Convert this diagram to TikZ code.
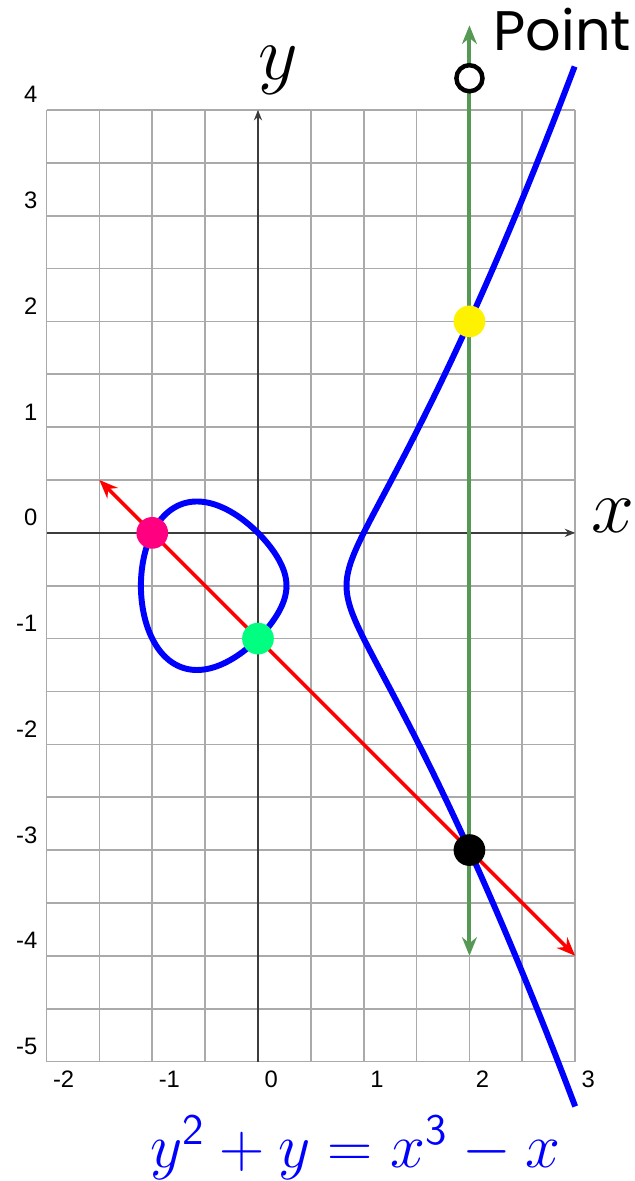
\documentclass[tikz,border=0pt]{standalone}
\usepackage{fontspec}
\newfontfamily\ticksfont{Liberation Sans}
\newfontfamily\pointfont{Poppins}
\usetikzlibrary{arrows.meta}
\definecolor{gridgray}{RGB}{170,170,170}
\definecolor{axisgray}{RGB}{60,60,60}
\definecolor{vgreen}{RGB}{85,153,85}
\definecolor{ptpink}{RGB}{255,0,128}
\definecolor{ptgreen}{RGB}{0,255,128}
\tikzset{
  ptdot/.style={circle,inner sep=0pt,minimum size=0.3cm},
  ticklab/.style={font=\ticksfont\fontsize{6.4}{7}\selectfont,inner sep=0pt},
  biglab/.style={font=\fontsize{20.74}{24}\selectfont,inner sep=0pt},
}
\begin{document}
\begin{tikzpicture}[>=Stealth]
    \useasboundingbox (-2.44,-6.13) rectangle (3.56,5.04);
    \draw[gridgray,line width=0.45pt,step=0.5] (-2,-5) grid (3,4); %方眼
    \coordinate (xl) at (-2,0); \coordinate (xr) at (3,0);
    \coordinate (yb) at (0,-5); \coordinate (yt) at (0,4);
    \draw[->,>={Stealth[length=2.8pt,width=2.2pt]},axisgray,line width=0.55pt] (xl)--(xr); %x軸
    \draw[->,>={Stealth[length=2.8pt,width=2.2pt]},axisgray,line width=0.55pt] (yb)--(yt); %y軸
    \node[biglab,anchor=base] (xlab) at (3.354,0) {$x$};
    \node[biglab,anchor=base] (ylab) at (0.19,4.29) {$y$};
    \foreach \y in {-5,...,4} \node[ticklab,anchor=base east] (ty\y) at (-2.08,\y+0.066) {\y}; %目盛り
    \foreach \x in {-2,...,3} \node[ticklab,anchor=base west] (tx\x) at (\x+0.055,-5.25) {\x};
    \coordinate (G1) at (2,-4); \coordinate (G2) at (2,4.8);
    \draw[<->,>={Stealth[length=5pt,width=4pt]},vgreen,line width=1.1pt] (G1)--(G2); %縦線
    \coordinate (R1) at (-1.5,0.5); \coordinate (R2) at (3,-4);
    \draw[<->,>={Stealth[length=5pt,width=4pt]},red,line width=0.95pt] (R1)--(R2); %直線
    \draw[blue,line width=1.6pt,samples=240,domain=0:360] plot ({-0.41879+0.68838*cos(\x)},{-0.5+0.68838*sin(\x)*sqrt(1.25636-0.68838*cos(\x))}) -- cycle; %閉じた部分
    \draw[blue,line width=1.6pt,samples=240,domain=-1.4706:1.4706] plot ({0.83757+(\x)*(\x)},{-0.5+(\x)*sqrt((0.56798+(\x)*(\x))*(1.94473+(\x)*(\x)))}); %開いた部分
    \node[ptdot,fill=ptpink] (P) at (-1,0) {};
    \node[ptdot,fill=ptgreen] (Q) at (0,-1) {};
    \node[ptdot,fill=yellow] (S) at (2,2) {};
    \node[ptdot,fill=black] (R) at (2,-3) {};
    \node[circle,draw=black,fill=white,line width=1.2pt,inner sep=0pt,minimum size=0.247cm] (O) at (2,4.3) {}; %無限遠点
    \node[font=\pointfont\fontsize{15}{17}\selectfont,anchor=base west,inner sep=0pt] (plab) at (2.22,4.565) {Point};
    \node[blue,font=\fontsize{17.28}{20}\selectfont,scale=0.976,anchor=base] (eq) at (0.918,-6.0) {$y^{\mathsf{2}}+y=x^{\mathsf{3}}-x$};
\end{tikzpicture}
\end{document}
